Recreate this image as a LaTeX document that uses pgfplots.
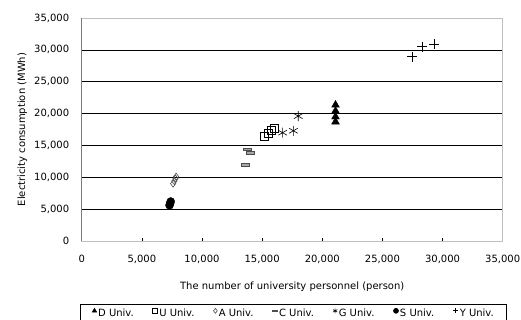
\documentclass[border=0pt]{standalone}
\usepackage{pgfplots}
\pgfplotsset{compat=1.18}
\usepackage{fontspec}
\setmainfont{DejaVu Sans}
\begin{document}
\begin{tikzpicture}
\useasboundingbox (0,0) rectangle (521pt,320pt);
\begin{axis}[
  at={(81.7pt,79pt)}, anchor=south west,
  scale only axis, width=421pt, height=223pt,
  xmin=0, xmax=35000, ymin=0, ymax=35000,
  xtick={0,5000,...,35000}, ytick={0,5000,...,35000},
  scaled ticks=false,
  /pgf/number format/1000 sep={,},
  /pgf/number format/assume math mode=true,
  font=\fontsize{10pt}{12pt}\selectfont,
  tick label style={font=\fontsize{10pt}{12pt}\selectfont},
  xtick pos=bottom, ytick pos=left, tick align=inside,
  major tick length=3pt,
  tick style={black, line width=0.6pt},
  ymajorgrids, grid style={black, line width=0.6pt},
  axis line style={gray!50, line width=0.8pt},
  xticklabel style={yshift=-11pt},
  yticklabel style={xshift=-9pt},
  xlabel={The number of university personnel (person)},
  ylabel={Electricity consumption (MWh)},
  xlabel style={yshift=-11pt},
  ylabel style={yshift=0pt},
  legend columns=7,
  legend style={at={(-0.004,-0.2825)}, anchor=north west, draw=black, line width=0.6pt,
    font=\fontsize{10pt}{12pt}\selectfont, column sep=1pt, inner xsep=12pt, inner ysep=3pt,
    nodes={inner xsep=0.5pt},
    /tikz/every even column/.append style={column sep=18.5pt}},
  legend image code/.code={\draw[#1, mark size=2.5pt] plot coordinates {(0pt,3pt)};},
]
\addplot[only marks, mark=triangle*, mark size=4.5pt, black] coordinates {
(21100,21350) (21100,20400) (21100,19500) (21100,18700)};
\addlegendentry{D Univ.}
\addplot[only marks, mark=square, mark size=4pt, black, mark options={line width=0.7pt}] coordinates {
(15200,16400) (15500,16900) (15800,17300) (16000,17700)};
\addlegendentry{U Univ.}
\addplot[only marks, mark=diamond, mark size=3.5pt, black!70, mark options={line width=0.6pt}] coordinates {
(7600,9000) (7700,9400) (7800,9800) (7850,10100)};
\addlegendentry{A Univ.}
\addplot[only marks, mark=square*, mark size=4pt, mark options={yscale=0.35, fill=gray!70, draw=black!70, line width=0.5pt}] coordinates {
(13800,14400) (14000,13900) (13600,12000)};
\addlegendentry{C Univ.}
\addplot[only marks, mark=asterisk, mark size=5pt, black, mark options={line width=0.6pt}] coordinates {
(16700,17000) (17600,17300) (18000,19600)};
\addlegendentry{G Univ.}
\addplot[only marks, mark=*, mark size=4pt, black] coordinates {
(7300,5600) (7350,5900) (7400,6200)};
\addlegendentry{S Univ.}
\addplot[only marks, mark=+, mark size=5pt, black, mark options={line width=0.8pt}] coordinates {
(27500,28900) (28300,30500) (29300,30900)};
\addlegendentry{Y Univ.}
\draw[black, line width=0.8pt] (rel axis cs:0,1) -- (rel axis cs:0,0) -- (rel axis cs:1,0);
\end{axis}
\end{tikzpicture}
\end{document}
